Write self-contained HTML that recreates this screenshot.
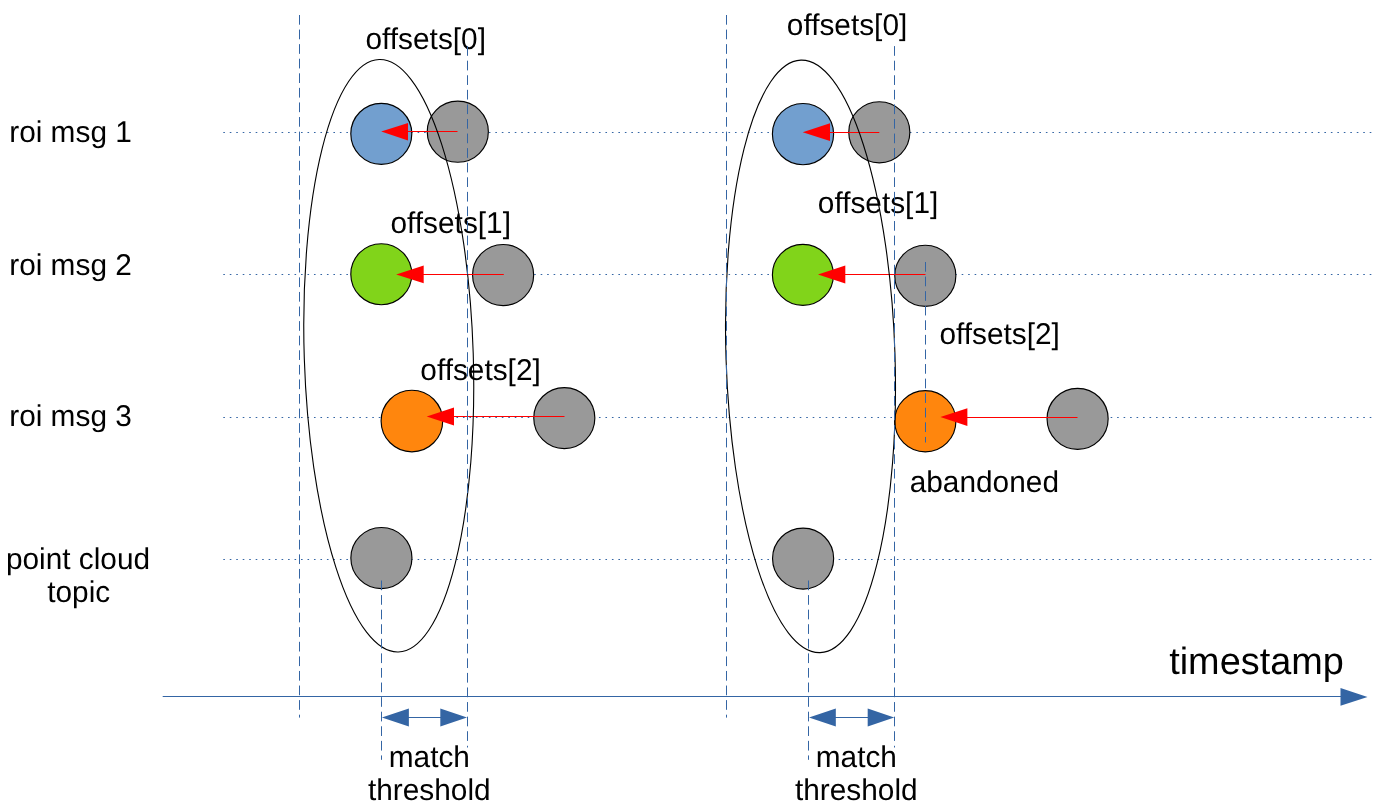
<!DOCTYPE html>
<html>
<head>
<meta charset="utf-8">
<title>ROI message / point cloud timestamp matching</title>
<style>
  html, body { margin: 0; padding: 0; background: #ffffff; }
  body { width: 1376px; height: 805px; overflow: hidden; }
  svg { display: block; }
  text { font-family: "Liberation Sans", sans-serif; fill: #000000; text-rendering: geometricPrecision; }
  .lbl { font-size: 30px; }
  .big { font-size: 38.1px; }
  .dot { stroke: #3465a4; stroke-width: 1; stroke-dasharray: 1.6 4.877; fill: none; }
  .dash { stroke: #3465a4; stroke-width: 1; stroke-dasharray: 9.7 4.877; fill: none; }
  .ax { stroke: #3465a4; stroke-width: 1; fill: none; }
  .bl { fill: #3465a4; stroke: none; }
  .c { stroke: #000000; stroke-width: 1.15; }
  .ell { fill: none; stroke: #000000; stroke-width: 1.1; }
  .rl { stroke: #ff0000; stroke-width: 1; fill: none; }
  .rh { fill: #ff0000; stroke: none; }
</style>
</head>
<body>
<svg width="1376" height="805" viewBox="0 0 1376 805">
  <rect x="0" y="0" width="1376" height="805" fill="#ffffff"/>

  <!-- dotted rows -->
  <g id="rows">
    <line class="dot" x1="223.3" y1="132.5" x2="1372" y2="132.5"/>
    <line class="dot" x1="223.3" y1="274.5" x2="1372" y2="274.5"/>
    <line class="dot" x1="223.3" y1="417.5" x2="1372" y2="417.5"/>
    <line class="dot" x1="223.3" y1="559.5" x2="1372" y2="559.5"/>
  </g>

  <!-- circles -->
  <g id="circles">
    <circle class="c" cx="381.3" cy="133.8" r="30.5" fill="#729fcf"/>
    <circle class="c" cx="457.8" cy="131.7" r="30.55" fill="#999999"/>
    <circle class="c" cx="381.3" cy="274.2" r="30.5" fill="#81d41a"/>
    <circle class="c" cx="503.1" cy="275.0" r="30.55" fill="#999999"/>
    <circle class="c" cx="411.9" cy="421.0" r="30.8" fill="#ff860d"/>
    <circle class="c" cx="564.3" cy="418.1" r="30.55" fill="#999999"/>
    <circle class="c" cx="381.4" cy="558.0" r="30.55" fill="#999999"/>

    <circle class="c" cx="803.0" cy="134.1" r="30.6" fill="#729fcf"/>
    <circle class="c" cx="879.3" cy="132.3" r="30.55" fill="#999999"/>
    <circle class="c" cx="802.9" cy="274.9" r="30.5" fill="#81d41a"/>
    <circle class="c" cx="925.3" cy="275.8" r="30.55" fill="#999999"/>
    <circle class="c" cx="925.3" cy="421.3" r="30.6" fill="#ff860d"/>
    <circle class="c" cx="1077.6" cy="418.85" r="30.55" fill="#999999"/>
    <circle class="c" cx="803.1" cy="558.6" r="30.55" fill="#999999"/>
  </g>


  <!-- axis -->
  <line class="ax" x1="162.7" y1="696.5" x2="1342" y2="696.5"/>
  <polygon class="bl" points="1340.5,688 1367.5,696.9 1340.5,705.8"/>

  <!-- double arrows -->
  <line class="ax" x1="400" y1="717.5" x2="450" y2="717.5"/>
  <polygon class="bl" points="381.9,717.5 408.9,708.6 408.9,726.4"/>
  <polygon class="bl" points="467,717.5 440.3,708.6 440.3,726.4"/>
  <line class="ax" x1="826" y1="717.5" x2="877" y2="717.5"/>
  <polygon class="bl" points="809,717.5 835.8,708.6 835.8,726.4"/>
  <polygon class="bl" points="894.2,717.5 867.7,708.6 867.7,726.4"/>

  <!-- red arrows -->
  <g id="red">
    <line class="rl" x1="457.5" y1="131.5" x2="405" y2="131.5"/>
    <polygon class="rh" points="381.2,131.6 408,122.9 408,140.4"/>
    <line class="rl" x1="503.8" y1="274.5" x2="420" y2="274.5"/>
    <polygon class="rh" points="396.2,274.4 423.7,265.4 423.7,283.3"/>
    <line class="rl" x1="564.5" y1="416.5" x2="450" y2="416.5"/>
    <polygon class="rh" points="426.7,416.5 454,407.4 454,425.6"/>

    <line class="rl" x1="879.3" y1="132.5" x2="826" y2="132.5"/>
    <polygon class="rh" points="802.7,132.2 830,123.3 830,141.1"/>
    <line class="rl" x1="925.5" y1="274.5" x2="842" y2="274.5"/>
    <polygon class="rh" points="818,274.5 845.3,265.6 845.3,283.4"/>
    <line class="rl" x1="1077.5" y1="417.5" x2="964" y2="417.5"/>
    <polygon class="rh" points="940.4,417.1 967.4,408.2 967.4,426"/>
  </g>

  <!-- ellipses -->
  <ellipse class="ell" cx="388.75" cy="355.75" rx="84.5" ry="296.4" transform="rotate(-1.85 388.75 355.75)"/>
  <ellipse class="ell" cx="810.5" cy="356.4" rx="84.5" ry="296.4" transform="rotate(-1.85 810.5 356.4)"/>

  <!-- labels -->
  <g id="alltext" style="opacity:0.999">
  <g id="labels" class="lbl">
    <text transform="translate(9.2 141.8) scale(0.994 1)">roi msg 1</text>
    <text transform="translate(9.2 274.5) scale(0.994 1)">roi msg 2</text>
    <text transform="translate(9.2 425.5) scale(0.994 1)">roi msg 3</text>
    <text transform="translate(78 568.6) scale(0.994 1)" text-anchor="middle">point cloud</text>
    <text transform="translate(78.7 601.6) scale(0.994 1)" text-anchor="middle">topic</text>

    <text transform="translate(365.5 48.8) scale(0.994 1)">offsets[0]</text>
    <text transform="translate(390.5 233.2) scale(0.994 1)">offsets[1]</text>
    <text transform="translate(420.3 380.1) scale(0.994 1)">offsets[2]</text>

    <text transform="translate(786.8 34.5) scale(0.994 1)">offsets[0]</text>
    <text transform="translate(817.8 212.5) scale(0.994 1)">offsets[1]</text>
    <text transform="translate(939.4 344.3) scale(0.994 1)">offsets[2]</text>
    <text transform="translate(909.7 492.3) scale(0.994 1)">abandoned</text>

    <text transform="translate(429.3 766.9) scale(0.994 1)" text-anchor="middle">match</text>
    <text transform="translate(429.3 799.9) scale(0.994 1)" text-anchor="middle">threshold</text>
    <text transform="translate(856.3 766.9) scale(0.994 1)" text-anchor="middle">match</text>
    <text transform="translate(856.3 799.9) scale(0.994 1)" text-anchor="middle">threshold</text>
  </g>
  <text class="big" transform="translate(1169.2 673.8) scale(0.994 1)">timestamp</text>
  </g>

  <!-- dashed verticals -->
  <g id="dashes">
    <line class="dash" x1="299.5" y1="15" x2="299.5" y2="717.6"/>
    <line class="dash" x1="467.5" y1="46.1" x2="467.5" y2="747.5"/>
    <line class="dash" x1="381.5" y1="580.5" x2="381.5" y2="759.8"/>
    <line class="dash" x1="726.5" y1="15" x2="726.5" y2="717.6"/>
    <line class="dash" x1="894.5" y1="46.1" x2="894.5" y2="747.5"/>
    <line class="dash" x1="808.5" y1="580.5" x2="808.5" y2="759.8"/>
    <line class="dash" x1="925.5" y1="262" x2="925.5" y2="442.5"/>
  </g>
</svg>
</body>
</html>
